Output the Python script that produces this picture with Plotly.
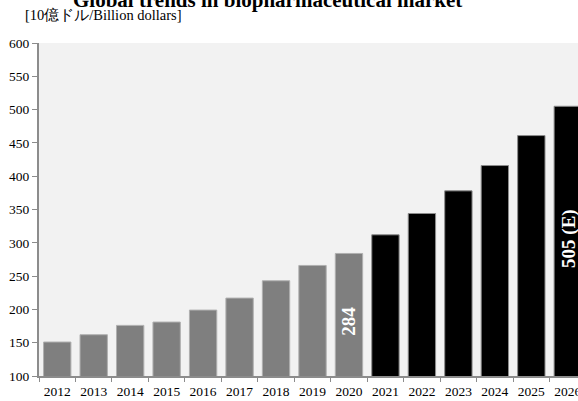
import plotly.graph_objects as go

years = ["2012", "2013", "2014", "2015", "2016", "2017", "2018", "2019",
         "2020", "2021", "2022", "2023", "2024", "2025", "2026"]
actual_values = [151, 162, 176, 181, 199, 217, 243, 266, 284, None, None, None, None, None, None]
forecast_values = [None, None, None, None, None, None, None, None, None, 312, 344, 378, 416, 461, 505]

y_ticks = [100, 150, 200, 250, 300, 350, 400, 450, 500, 550, 600]

FONT = "Liberation Serif, Times New Roman, serif"

fig = go.Figure()
fig.add_trace(go.Bar(
    x=years, y=actual_values, marker=dict(color="#7f7f7f", line=dict(color="#b0b0b0", width=1)),
    showlegend=False, cliponaxis=True,
))
fig.add_trace(go.Bar(
    x=years, y=forecast_values, marker=dict(color="#000000", line=dict(color="#8c8c8c", width=1)),
    showlegend=False, cliponaxis=True,
))

fig.add_annotation(x=8, y=183, text="<b>284</b>", textangle=-90, showarrow=False,
                   font=dict(family=FONT, size=19, color="white"))
fig.add_annotation(x=14, y=307, text="<b>505 (E)</b>", textangle=-90, showarrow=False,
                   xshift=1, font=dict(family=FONT, size=19, color="white"))

fig.add_annotation(xref="paper", yref="paper", x=(267 - 39) / 539, y=1.0, yshift=43,
                   text="<b>Global trends in biopharmaceutical market</b>", showarrow=False,
                   xanchor="center", yanchor="middle", font=dict(family=FONT, size=21, color="black"))
fig.add_annotation(xref="paper", yref="paper", x=(23 - 39) / 539, y=1.0, yshift=28,
                   text="[10億ドル/Billion dollars]", showarrow=False,
                   xanchor="left", yanchor="middle", font=dict(family=FONT, size=14.5, color="black"))

fig.update_layout(
    width=578, height=401,
    margin=dict(l=39, r=0, t=43, b=25, pad=0),
    paper_bgcolor="white", plot_bgcolor="#f2f2f2",
    barmode="overlay", bargap=0.25,
    font=dict(family=FONT, size=13.5, color="black"),
)
fig.update_xaxes(
    type="category", range=[-0.5, 14.28], automargin=False, tickangle=0,
    showline=True, linecolor="#8c8c8c", linewidth=2,
    ticks="outside", tickson="boundaries", ticklen=4, tickcolor="#8c8c8c",
    ticklabelstandoff=2,
    showgrid=False, tickfont=dict(family=FONT, size=13.5),
)
fig.update_yaxes(
    range=[100, 600], tickvals=y_ticks, automargin=False,
    showline=True, linecolor="#8c8c8c", linewidth=2,
    ticks="outside", ticklen=5, tickcolor="#8c8c8c",
    showgrid=False, zeroline=False, tickfont=dict(family=FONT, size=13.5),
)

fig.write_html("out.html", config={"displayModeBar": False},
               post_script="document.body.style.margin='0';")
